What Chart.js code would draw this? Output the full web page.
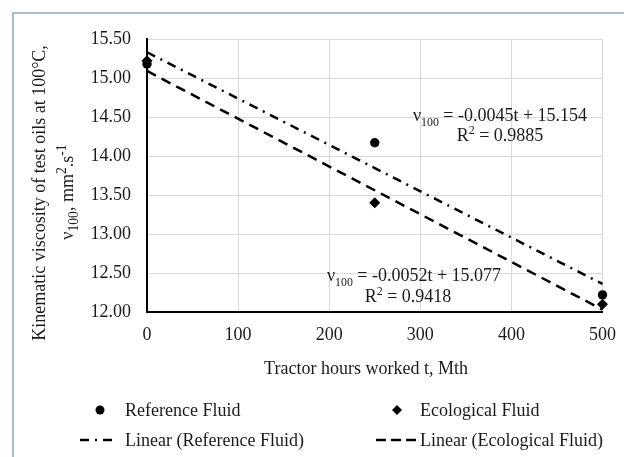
<!DOCTYPE html>
<html>
<head>
<meta charset="utf-8">
<script src="https://cdn.jsdelivr.net/npm/chart.js@4.4.1/dist/chart.umd.min.js"></script>
<style>
  html, body { margin: 0; padding: 0; background: #fff; }
  canvas { display: block; }
</style>
</head>
<body>
<canvas id="chart" width="624" height="457"></canvas>
<script>
// measured points (tractor hours vs viscosity)
const hours = [0, 250, 500];
const referenceFluid = [15.18, 14.17, 12.22];
const ecologicalFluid = [15.22, 13.40, 12.10];

// trend line ends as drawn in the original
const trendHours = [0, 500];
const referenceTrend = [15.33, 12.36];
const ecologicalTrend = [15.09, 12.03];

const xTicks = [0, 100, 200, 300, 400, 500];
const yTicks = [12.0, 12.5, 13.0, 13.5, 14.0, 14.5, 15.0, 15.5];

const FONT = "'Liberation Serif', 'Times New Roman', serif";
const TEXT = '#1a1a1a';
const REF_DASH = [9, 6, 2, 6];
const ECO_DASH = [10, 6.5];

// draws a line of text with sub/superscript pieces
function richText(ctx, parts, x, y, size, align, small = 0.66) {
  const fontFor = p => `${p.sub || p.sup ? size * small : size}px ${FONT}`;
  let w = 0;
  parts.forEach(p => { ctx.font = fontFor(p); w += ctx.measureText(p.t).width; });
  let cx = align === 'center' ? x - w / 2 : x;
  ctx.textAlign = 'left';
  ctx.textBaseline = 'alphabetic';
  parts.forEach(p => {
    ctx.font = fontFor(p);
    const dy = p.sub ? size * 0.28 : p.sup ? -size * 0.38 : 0;
    ctx.fillText(p.t, cx, y + dy);
    cx += ctx.measureText(p.t).width;
  });
}

const framePlugin = {
  id: 'frame',
  beforeDraw(chart) {
    const { ctx, width, height } = chart;
    ctx.save();
    ctx.fillStyle = '#fff';
    ctx.fillRect(0, 0, width, height);
    ctx.strokeStyle = '#a3bfcd';
    ctx.lineWidth = 2;
    ctx.strokeRect(13, 13, width + 10, height + 10);
    ctx.restore();
  }
};

const textPlugin = {
  id: 'texts',
  afterDraw(chart) {
    const { ctx } = chart;
    ctx.save();
    ctx.fillStyle = TEXT;

    // y axis title, two rotated lines
    ctx.save();
    ctx.translate(39, 193);
    ctx.rotate(-Math.PI / 2);
    richText(ctx, [{ t: 'Kinematic viscosity of test oils at 100°C,' }], 0, 6, 18, 'center');
    ctx.restore();
    ctx.save();
    ctx.translate(67, 192);
    ctx.rotate(-Math.PI / 2);
    richText(ctx, [
      { t: 'ν' }, { t: '100', sub: true }, { t: ', mm' }, { t: '2', sup: true },
      { t: '.s' }, { t: '-1', sup: true }
    ], 0, 6, 18, 'center', 0.76);
    ctx.restore();

    // x axis title
    richText(ctx, [{ t: 'Tractor hours worked t, Mth' }], 366, 374, 18, 'center');

    // trendline equations
    richText(ctx, [{ t: 'ν' }, { t: '100', sub: true }, { t: ' = -0.0045t + 15.154' }], 500, 121, 18, 'center');
    richText(ctx, [{ t: 'R' }, { t: '2', sup: true }, { t: ' = 0.9885' }], 500, 141, 18, 'center');
    richText(ctx, [{ t: 'ν' }, { t: '100', sub: true }, { t: ' = -0.0052t + 15.077' }], 414, 281, 18, 'center');
    richText(ctx, [{ t: 'R' }, { t: '2', sup: true }, { t: ' = 0.9418' }], 408, 302, 18, 'center');

    // legend
    const rows = [416, 446];
    richText(ctx, [{ t: 'Reference Fluid' }], 125, rows[0], 18);
    richText(ctx, [{ t: 'Ecological Fluid' }], 420, rows[0], 18);
    richText(ctx, [{ t: 'Linear (Reference Fluid)' }], 125, rows[1], 18);
    richText(ctx, [{ t: 'Linear (Ecological Fluid)' }], 420, rows[1], 18);

    ctx.fillStyle = '#000';
    ctx.beginPath();
    ctx.arc(100, rows[0] - 6, 4.5, 0, Math.PI * 2);
    ctx.fill();
    ctx.beginPath();
    ctx.moveTo(397, rows[0] - 11);
    ctx.lineTo(402, rows[0] - 6);
    ctx.lineTo(397, rows[0] - 1);
    ctx.lineTo(392, rows[0] - 6);
    ctx.closePath();
    ctx.fill();

    ctx.strokeStyle = '#000';
    ctx.lineWidth = 2.5;
    ctx.setLineDash(REF_DASH);
    ctx.beginPath();
    ctx.moveTo(80, rows[1] - 6);
    ctx.lineTo(117, rows[1] - 6);
    ctx.stroke();
    ctx.setLineDash([10, 5]);
    ctx.beginPath();
    ctx.moveTo(376, rows[1] - 6);
    ctx.lineTo(418, rows[1] - 6);
    ctx.stroke();
    ctx.restore();
  }
};

const toPoints = (xs, ys) => xs.map((x, i) => ({ x, y: ys[i] }));

new Chart(document.getElementById('chart'), {
  type: 'scatter',
  plugins: [framePlugin, textPlugin],
  data: {
    datasets: [
      {
        label: 'Reference Fluid',
        data: toPoints(hours, referenceFluid),
        pointStyle: 'circle',
        pointRadius: 4.7,
        backgroundColor: '#000',
        borderColor: '#000',
        borderWidth: 0,
        clip: false,
      },
      {
        label: 'Ecological Fluid',
        data: toPoints(hours, ecologicalFluid),
        pointStyle: 'rectRot',
        pointRadius: 5.5,
        backgroundColor: '#000',
        borderColor: '#000',
        borderWidth: 0,
        clip: false,
      },
      {
        type: 'line',
        label: 'Linear (Reference Fluid)',
        data: toPoints(trendHours, referenceTrend),
        borderColor: '#000',
        borderWidth: 2.5,
        borderDash: REF_DASH,
        pointRadius: 0,
        fill: false,
        clip: false,
      },
      {
        type: 'line',
        label: 'Linear (Ecological Fluid)',
        data: toPoints(trendHours, ecologicalTrend),
        borderColor: '#000',
        borderWidth: 2.5,
        borderDash: ECO_DASH,
        pointRadius: 0,
        fill: false,
        clip: false,
      },
    ]
  },
  options: {
    responsive: false,
    animation: false,
    devicePixelRatio: 1,
    layout: { padding: { left: 0, right: 21.5, top: 39, bottom: 0 } },
    plugins: {
      legend: { display: false },
      tooltip: { enabled: false },
    },
    scales: {
      x: {
        type: 'linear',
        min: 0,
        max: 500,
        afterBuildTicks(scale) { scale.ticks = xTicks.map(v => ({ value: v })); },
        afterFit(scale) {
          scale.height = 145;
          scale.paddingLeft = 0;
          scale.paddingRight = 0;
        },
        grid: { color: '#d9d9d9', lineWidth: 1, drawTicks: false },
        border: { color: '#000', width: 2 },
        ticks: { color: TEXT, font: { family: FONT, size: 18 }, padding: 12 },
      },
      y: {
        type: 'linear',
        min: 12,
        max: 15.5,
        afterBuildTicks(scale) { scale.ticks = yTicks.map(v => ({ value: v })); },
        afterFit(scale) { scale.width = 147; },
        grid: { color: '#d9d9d9', lineWidth: 1, drawTicks: false },
        border: { color: '#000', width: 2 },
        ticks: {
          color: TEXT,
          font: { family: FONT, size: 18 },
          padding: 16,
          callback: v => Number(v).toFixed(2),
        },
      },
    },
  },
});
</script>
</body>
</html>
